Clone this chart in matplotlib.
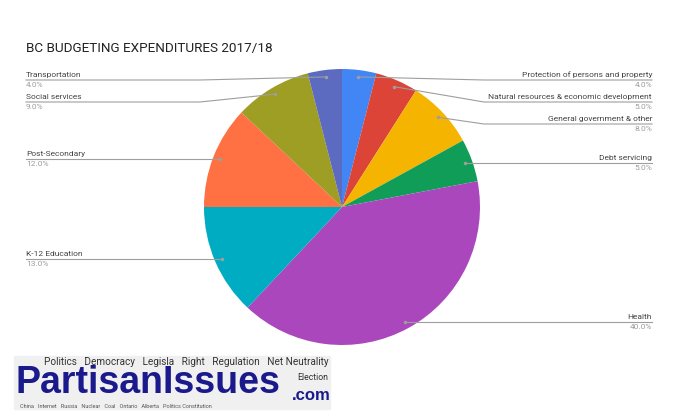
import matplotlib.pyplot as plt
import numpy as np

plt.rcParams['font.family'] = ['Roboto', 'DejaVu Sans']

# Data (clockwise from 12 o'clock)
categories = ['Protection of persons and property', 'Natural resources & economic development',
              'General government & other', 'Debt servicing', 'Health', 'K-12 Education',
              'Post-Secondary', 'Social services', 'Transportation']
shares = [4.0, 5.0, 8.0, 5.0, 40.0, 13.0, 12.0, 9.0, 4.0]
colors = ['#4285F4', '#DB4437', '#F4B400', '#0F9D58', '#AB47BC', '#00ACC1',
          '#FF7043', '#9E9D24', '#5C6BC0']

# word-cloud logo texts
logo_top = ['Politics', 'Democracy', 'Legisla', 'Right', 'Regulation', 'Net Neutrality']
logo_bottom = ['China', 'Internet', 'Russia', 'Nuclear', 'Coal', 'Ontario', 'Alberta',
               'Politics Constitution']

W, H = 692, 417
CX, CY, R = 342, 207, 138

fig = plt.figure(figsize=(W / 100, H / 100), dpi=100)

# pie axes placed in pixel space
ax = fig.add_axes([(CX - R) / W, (H - CY - R) / H, 2 * R / W, 2 * R / H])
ax.pie(shares, colors=colors, startangle=90, counterclock=False,
       wedgeprops={'linewidth': 0})
ax.set_xlim(-1, 1)
ax.set_ylim(-1, 1)
ax.set_aspect('equal')
ax.axis('off')

# overlay axes in pixel coordinates for labels
ov = fig.add_axes([0, 0, 1, 1], zorder=5)
ov.set_xlim(0, W)
ov.set_ylim(H, 0)
ov.axis('off')
ov.patch.set_alpha(0)

ov.text(26, 48, 'BC BUDGETING EXPENDITURES 2017/18', fontsize=9.7, color='#222222',
        va='center', ha='left')

# leader dots from wedge mid-angles
cum = np.cumsum([0] + shares)
mids = (cum[:-1] + cum[1:]) / 2 / 100 * 2 * np.pi
dots_x = CX + 0.95 * R * np.sin(mids)
dots_y = CY - 0.95 * R * np.cos(mids)

line_col = '#9e9e9e'
for side in ('right', 'left'):
    idx = [i for i in range(len(shares)) if (dots_x[i] >= CX) == (side == 'right')]
    idx.sort(key=lambda i: dots_y[i])
    last = None
    for i in idx:
        ly = max(dots_y[i], 80) if last is None else max(dots_y[i], last + 22)
        last = ly
        if side == 'right':
            ex, tx, ha = max(484, dots_x[i] + 10), 652, 'right'
        else:
            ex, tx, ha = min(200, dots_x[i] - 10), 26, 'left'
        ov.plot([dots_x[i], ex, tx], [dots_y[i], ly, ly], color=line_col, lw=0.8)
        ov.plot(dots_x[i], dots_y[i], 'o', ms=1.5, color='#9e9e9e')
        ov.text(tx, ly - 2, categories[i], fontsize=6.0, color='#444444', ha=ha, va='bottom')
        ov.text(tx, ly + 2, f'{shares[i]:.1f}%', fontsize=6.0, color='#9e9e9e', ha=ha, va='top')

# logo in the lower-left corner
ov.add_patch(plt.Rectangle((14, 356), 316, 53, color='#f0f0f0', zorder=1))
ov.text(44, 362, '   '.join(logo_top), fontsize=7.2, color='#333333',
        ha='left', va='center', zorder=2)
ov.text(20, 406, '   '.join(logo_bottom), fontsize=4, color='#555555',
        ha='left', va='center', zorder=2)
ov.text(16, 383, 'PartisanIssues', fontsize=27, fontweight='bold', color='#1a1a8c',
        family='Liberation Sans', ha='left', va='center', zorder=3)
ov.text(297, 378, 'Election', fontsize=6.3, color='#333333', ha='left', va='center', zorder=2)
ov.text(292, 395, '.com', fontsize=12, fontweight='bold', color='#1a1a8c',
        family='Liberation Sans', ha='left', va='center', zorder=3)

fig.savefig('out.png', dpi=100)
